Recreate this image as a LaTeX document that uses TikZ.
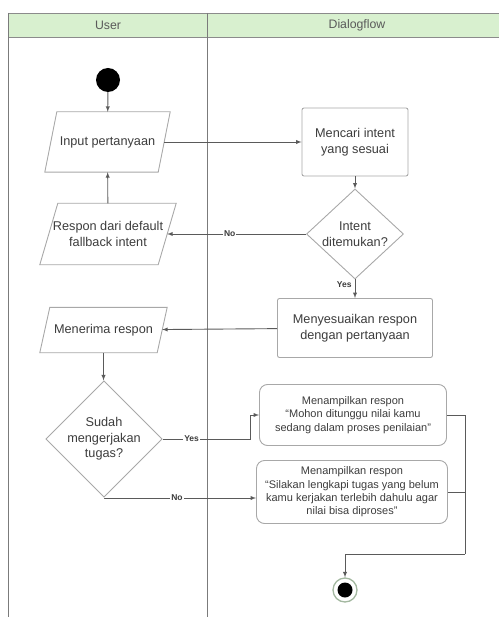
\documentclass[tikz,border=0pt]{standalone}
\usepackage{fontspec}
\setmainfont{Liberation Sans}
\usetikzlibrary{shapes.geometric}
\definecolor{headgreen}{HTML}{D8F0CF}
\definecolor{txtgray}{HTML}{3C3C3C}
\definecolor{linegray}{HTML}{5A5A5A}
\definecolor{boxgray}{HTML}{A8A8A8}
\definecolor{ringgray}{HTML}{A3B8A0}
\tikzset{
  boxline/.style={draw=boxgray,line width=0.9pt},
  actbox/.style={boxline,rounded corners=2pt,align=center,text=txtgray,
    font=\fontsize{12.7}{15.5}\selectfont,inner sep=0pt},
  msgbox/.style={actbox,rounded corners=8pt,font=\fontsize{11}{13.3}\selectfont},
  iobox/.style={rectangle,align=center,text=txtgray,font=\fontsize{12.7}{15.5}\selectfont,inner sep=0pt},
  decide/.style={boxline,diamond,aspect=1,align=center,text=txtgray,
    font=\fontsize{12.7}{15.5}\selectfont,inner sep=0pt},
  flow/.style={draw=linegray,line width=0.9pt,->,>=latex},
  guard/.style={font=\bfseries\fontsize{8.5}{10}\selectfont,text=txtgray,fill=white,inner sep=1pt}
}
\begin{document}
\begin{tikzpicture}[x=1pt,y=-1pt]
  \useasboundingbox (0,0) rectangle (499,617);
  \fill[headgreen] (8,13) rectangle (499,37);
  \draw[draw=linegray!70,line width=0.9pt] (8,13) -- (499,13) (8,37) -- (499,37);
  \draw[draw=linegray!80,line width=0.9pt] (8,13) -- (8,617) (207,13) -- (207,617);
  \node[text=linegray,font=\fontsize{12.3}{14}\selectfont] (laneuser) at (108,25) {User};
  \node[text=linegray,font=\fontsize{12.3}{14}\selectfont] (lanedf) at (357,25) {Dialogflow};

  \node[circle,fill=black,minimum size=24,inner sep=0pt] (start) at (108,80) {};
  \node[iobox,minimum width=113,minimum height=60] (input) at (107.5,142) {Input pertanyaan};
  \node[actbox,minimum width=106,minimum height=68] (cari) at (355,142) {Mencari intent\\yang sesuai};
  \node[decide,minimum width=97,minimum height=68] (found) at (355,234) {Intent\\ditemukan?};
  \node[iobox,minimum width=118,minimum height=61] (fallback) at (108,234) {Respon dari default\\fallback intent};
  \node[actbox,minimum width=155,minimum height=59] (sesuai) at (355,328) {Menyesuaikan respon\\dengan pertanyaan};
  \node[iobox,minimum width=117,minimum height=45] (terima) at (103.5,330) {Menerima respon};
  \node[decide,minimum width=112,minimum height=101] (sudah) at (104,439) {Sudah\\mengerjakan\\tugas?};
  \node[msgbox,minimum width=187,minimum height=61] (tunggu) at (353,415)
    {Menampilkan respon\\``Mohon ditunggu nilai kamu\\sedang dalam proses penilaian''};
  \node[msgbox,minimum width=191,minimum height=63] (lengkapi) at (352,492)
    {Menampilkan respon\\``Silakan lengkapi tugas yang belum\\kamu kerjakan terlebih dahulu agar\\nilai bisa diproses''};
  \node[circle,draw=ringgray,line width=1.3pt,fill=white,minimum size=24,inner sep=0pt] (stop) at (345,590) {};
  \node[circle,fill=black,minimum size=15,inner sep=0pt] (stopdot) at (stop) {};
  \coordinate (rail) at (465,554);

  \foreach \n/\s in {input/6,fallback/9,terima/5}
    \draw[boxline] ([xshift=\s]\n.north west) -- ([xshift=\s]\n.north east)
      -- ([xshift=-\s]\n.south east) -- ([xshift=-\s]\n.south west) -- cycle;

  \draw[flow] (start) -- (input);
  \draw[flow] (input) -- (cari);
  \draw[flow] (cari) -- (found);
  \draw[flow] (found) -- node[guard,pos=0.55] {No} (fallback);
  \draw[flow] (fallback) -- (input);
  \draw[flow] (found) -- node[guard,pos=0.3,left=2pt,fill=none] {Yes} (sesuai);
  \draw[flow] (sesuai) -- (terima);
  \draw[flow] (terima) -- (terima |- sudah.north);
  \draw[flow] (sudah.east) -- node[guard,pos=0.33] {Yes} ++(88,0) |- (tunggu.west);
  \draw[flow] (sudah.south) |- node[guard,pos=0.74] {No} ([yshift=-6pt]lengkapi.west);
  \draw[draw=linegray,line width=0.9pt] (tunggu.east) -| (rail) (lengkapi.east) -- (lengkapi.east -| rail);
  \draw[flow] (rail) -| (stop.north);
\end{tikzpicture}
\end{document}
